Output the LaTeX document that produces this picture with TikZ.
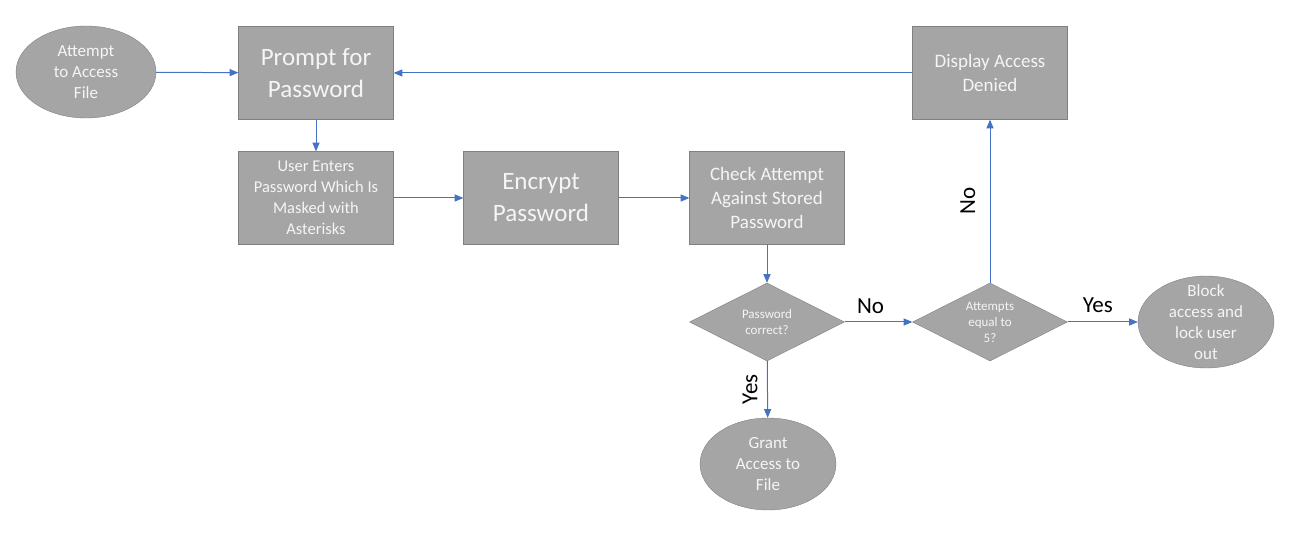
\documentclass[tikz,border=0pt]{standalone}
\usepackage{fontspec}
\setmainfont{Carlito}
\usepackage{tikz}
\usetikzlibrary{arrows, shapes, shapes.geometric, positioning}
\definecolor{BoxGrau}{RGB}{165,165,165}
\definecolor{RandGrau}{RGB}{128,128,128}
\definecolor{TextWeiss}{RGB}{245,245,245}
\definecolor{PfeilBlau}{RGB}{68,114,196}

\tikzset{
    box/.style={shape=rectangle, draw=RandGrau, fill=BoxGrau, text=TextWeiss, align=center,
                minimum width=155pt, minimum height=93pt, inner sep=2pt},
    terminal/.style={shape=ellipse, draw=RandGrau, fill=BoxGrau, text=TextWeiss, align=center,
                minimum width=138pt, minimum height=92pt, inner sep=-10pt,
                font=\fontsize{17}{21}\selectfont},
    decision/.style={shape=diamond, draw=RandGrau, fill=BoxGrau, text=TextWeiss, align=center,
                minimum width=155pt, minimum height=78pt, inner sep=0pt, aspect=2,
                font=\fontsize{13}{16}\selectfont},
    flow/.style={PfeilBlau, line width=1pt, -triangle 45},
    answer/.style={text=black, font=\fontsize{23}{26}\selectfont}
}

\begin{document}
\begin{tikzpicture}[x=1pt, y=-1pt]
    \useasboundingbox (0,0) rectangle (1304,534);
    \node[terminal, minimum width=140pt] (start) at ( 86,  72) {Attempt\\to Access\\File};
    \node[box, font=\fontsize{25}{32}\selectfont] (prompt) at (316,  73) {Prompt for\\Password};
    \node[box, font=\fontsize{16.5}{21}\selectfont] (enter)  at (316, 198) {User Enters\\Password Which Is\\Masked with\\Asterisks};
    \node[box, font=\fontsize{25}{32}\selectfont] (encrypt) at (541, 198) {Encrypt\\Password};
    \node[box, font=\fontsize{19}{24}\selectfont] (check)  at (767, 198) {Check Attempt\\Against Stored\\Password};
    \node[box, font=\fontsize{19}{24}\selectfont] (denied) at (990,  73) {Display Access\\Denied};
    \node[decision] (correct)  at (767, 322) {Password\\correct?};
    \node[decision] (attempts) at (990, 322) {Attempts\\equal to\\5?};
    \node[terminal, minimum width=136pt] (block) at (1206, 322) {Block\\access and\\lock user\\out};
    \node[terminal, minimum width=136pt] (grant) at ( 768, 464) {Grant\\Access to\\File};

    \path[flow] (start)   edge (prompt);
    \path[flow] (prompt)  edge (enter);
    \path[flow] (enter)   edge (encrypt);
    \path[flow] (encrypt) edge (check);
    \path[flow] (check)   edge (correct);
    \path[flow] (correct) edge node[answer, above=5pt, xshift=-8pt] {No} (attempts);
    \path[flow] (correct) edge node[answer, xshift=-6pt, rotate=90, anchor=south] {Yes} (grant);
    \path[flow] (attempts) edge node[answer, above=5pt, xshift=-5pt] {Yes} (block);
    \path[flow] (attempts) edge node[answer, xshift=-11pt, rotate=90, anchor=south] {No} (denied);
    \path[flow] (denied)  edge (prompt);
\end{tikzpicture}
\end{document}
